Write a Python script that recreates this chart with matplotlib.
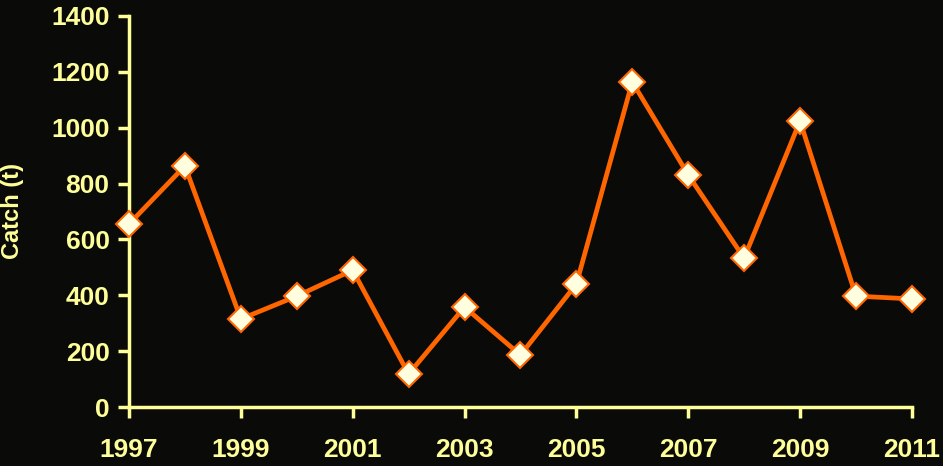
import matplotlib
matplotlib.use("Agg")
import matplotlib.pyplot as plt

years = [1997, 1998, 1999, 2000, 2001, 2002, 2003, 2004, 2005, 2006, 2007, 2008, 2009, 2010, 2011]
catch = [655, 863, 315, 397, 490, 118, 358, 186, 440, 1164, 831, 533, 1024, 397, 387]
yticks = [0, 200, 400, 600, 800, 1000, 1200, 1400]
xticks = [1997, 1999, 2001, 2003, 2005, 2007, 2009, 2011]

txt = "#FFFF99"
plt.rcParams['font.family'] = ['Liberation Sans', 'DejaVu Sans']

fig = plt.figure(figsize=(9.43, 4.66), dpi=100, facecolor="#0a0a08")
ax = fig.add_axes([0.1368, 0.1266, 0.967 - 0.1368, 0.9657 - 0.1266])
ax.set_facecolor("#0a0a08")

ax.plot(years, catch, color="#FF6600", lw=3.4, marker="D", markersize=13,
        markerfacecolor="#FFFFE0", markeredgecolor="#FF6600", markeredgewidth=1.5,
        zorder=3, clip_on=False)

ax.set_xlim(1997, 2011)
ax.set_ylim(0, 1400)
ax.set_xticks(xticks)
ax.set_yticks(yticks)
ax.set_xticklabels([str(x) for x in xticks], fontsize=19, fontweight="bold", color=txt)
ax.set_yticklabels([str(y) for y in yticks], fontsize=19, fontweight="bold", color=txt)
ax.tick_params(axis="both", direction="out", length=8, width=2.5, color=txt)
ax.tick_params(axis="x", pad=14)
ax.tick_params(axis="y", pad=6)
for s in ["top", "right"]:
    ax.spines[s].set_visible(False)
for s in ["left", "bottom"]:
    ax.spines[s].set_color(txt)
    ax.spines[s].set_linewidth(2.5)
ax.set_ylabel("Catch (t)", fontsize=17, fontweight="bold", color=txt)
ax.yaxis.set_label_coords(-0.134, 0.5)

fig.savefig("out.png", dpi=100, facecolor=fig.get_facecolor())
